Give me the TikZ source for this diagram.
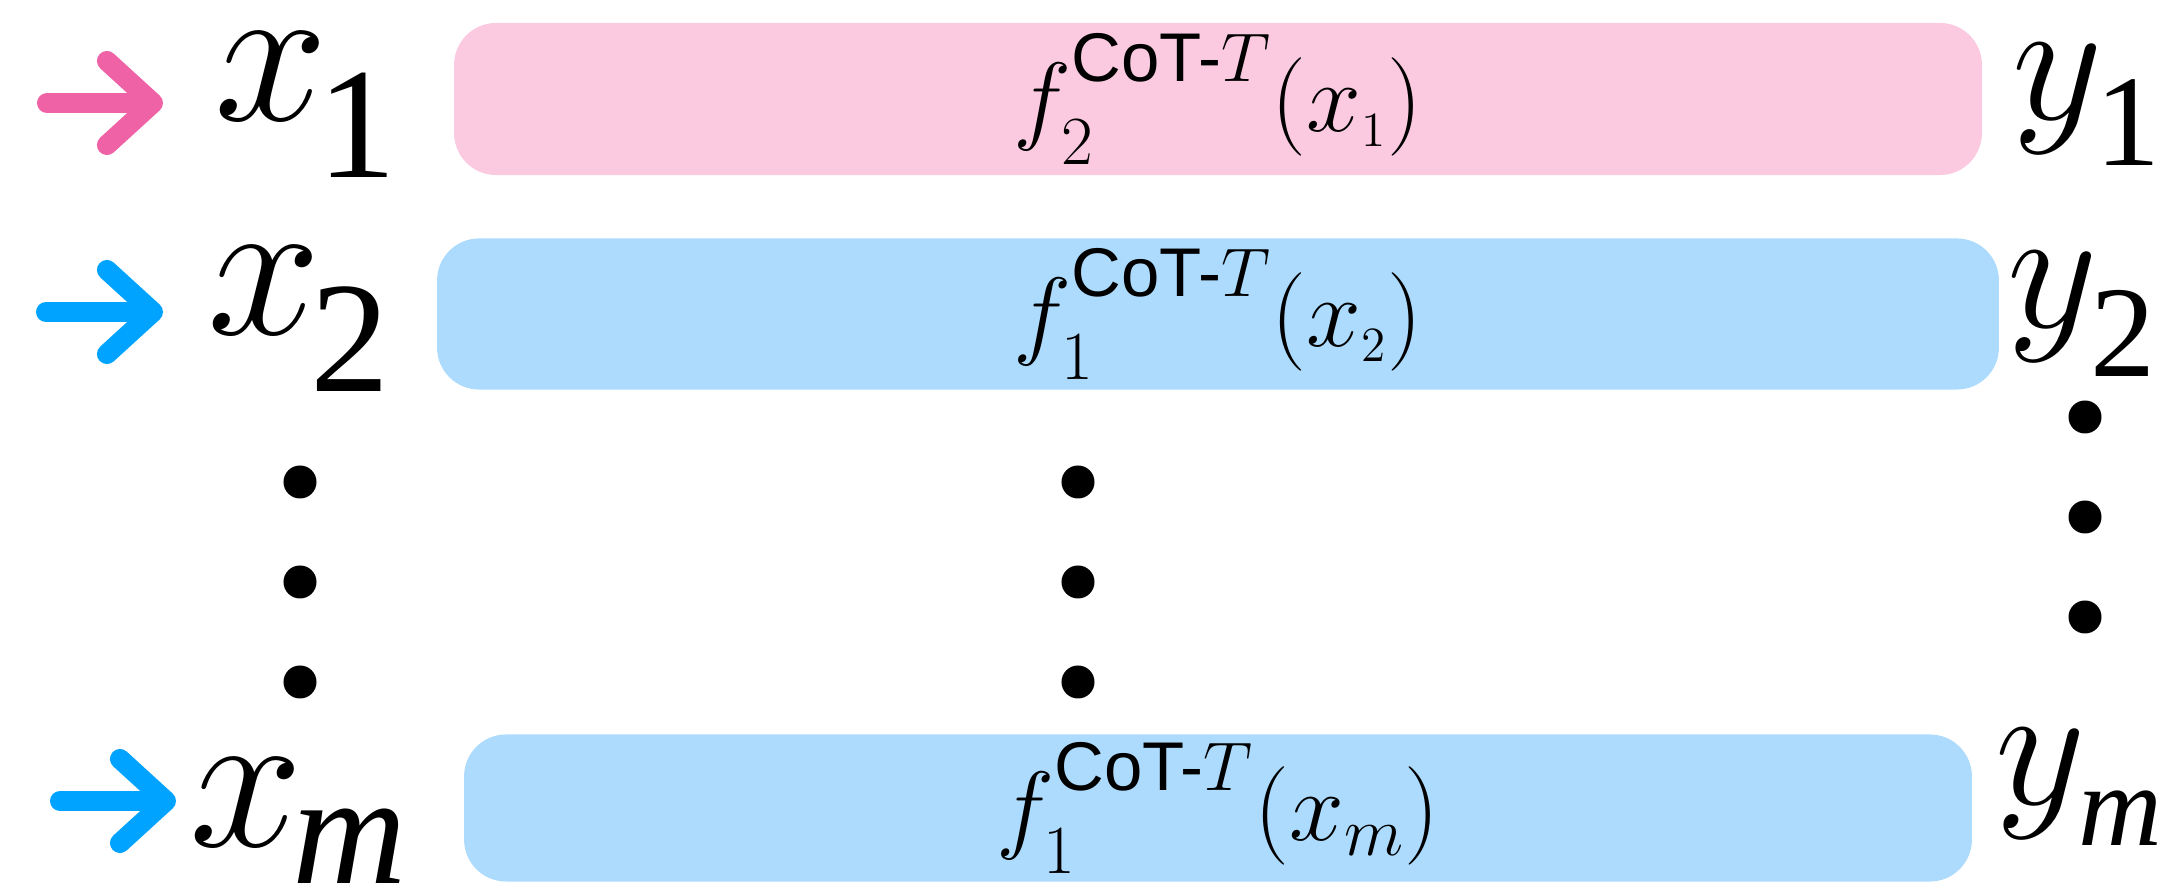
\RequirePackage{fix-cm}
\documentclass[tikz,border=0pt]{standalone}
\usepackage{amsmath}
\usepackage{fontspec}
\setmainfont{Liberation Serif}
\setsansfont{Liberation Sans}
\usetikzlibrary{arrows.meta}

\definecolor{cotpink}{HTML}{FBCAE0}
\definecolor{cotpinkarrow}{HTML}{EF62A6}
\definecolor{cotblue}{HTML}{ADDBFD}
\definecolor{cotbluearrow}{HTML}{00A3FF}

\newcommand{\xsub}[2][16pt]{\kern-3pt\raisebox{-#1}{\fontsize{45}{45}\selectfont #2}}
\newcommand{\ysub}[2][13pt]{\kern-2pt\raisebox{-#1}{\fontsize{37}{37}\selectfont #2}}
\newcommand{\cotf}[2]{$f^{\raisebox{4pt}{$\scriptstyle\textsf{CoT-}T$}}_{\raisebox{-2.3pt}{$\scriptstyle #1$}}(x_{#2})$}

\tikzset{
  funcbox/.style={rounded corners=0.42cm, inner sep=0, font=\fontsize{28}{28}\selectfont},
  pinkbox/.style={funcbox, fill=cotpink},
  bluebox/.style={funcbox, fill=cotblue},
  xlab/.style={inner sep=0, anchor=base west, font=\fontsize{58}{58}\selectfont},
  ylab/.style={inner sep=0, anchor=base west, font=\fontsize{50}{50}\selectfont},
  vdot/.style={circle, fill=black, inner sep=0, minimum size=0.33cm},
  inarrow/.style={line width=0.2cm, line cap=round,
    -{Straight Barb[length=0.46cm, width=0.84cm, round]}}
}

\begin{document}
\begin{tikzpicture}[x=0.01cm, y=-0.01cm]
    \useasboundingbox (0,0) rectangle (2168,886);

    % rows f(x)
    \node[pinkbox, minimum width=15.27cm, minimum height=1.52cm] (f1) at (1218,99) {\cotf{2}{\scriptscriptstyle 1}};
    \node[bluebox, minimum width=15.61cm, minimum height=1.51cm] (f2) at (1218,314) {\cotf{1}{\scriptscriptstyle 2}};
    \node[bluebox, minimum width=15.07cm, minimum height=1.47cm] (fm) at (1218,808) {\cotf{1}{m}};

    % inputs
    \node[xlab] (x1) at (214,121) {$x$\xsub{1}};
    \node[xlab] (x2) at (207,335) {$x$\xsub{2}};
    \node[xlab] (xm) at (189,847) {$x$\xsub[10.5pt]{\textit{m}}};

    % outputs
    \node[ylab] (y1) at (2012,120) {$y$\ysub{1}};
    \node[ylab] (y2) at (2007,328) {$y$\ysub[13.7pt]{2}};
    \node[ylab] (ym) at (1995,805) {$y$\ysub[11.4pt]{\fontsize{33}{33}\selectfont\textit{m}}};

    % vertical dots
    \foreach \n/\y in {1/482, 2/582, 3/682} {
        \node[vdot] (ldot\n) at (300,\y) {};
        \node[vdot] (mdot\n) at (1078,\y) {};
    }
    \foreach \n/\y in {1/417, 2/517, 3/617}
        \node[vdot] (rdot\n) at (2085,\y) {};

    % arrows
    \coordinate (in1) at (47,103);
    \coordinate (in2) at (46,312);
    \coordinate (inm) at (60,801);
    \draw[inarrow, cotpinkarrow, shorten >=0.51cm] (in1) -- (x1.west |- in1);
    \draw[inarrow, cotbluearrow, shorten >=0.44cm] (in2) -- (x2.west |- in2);
    \draw[inarrow, cotbluearrow, shorten >=0.13cm] (inm) -- (xm.west |- inm);
\end{tikzpicture}
\end{document}
